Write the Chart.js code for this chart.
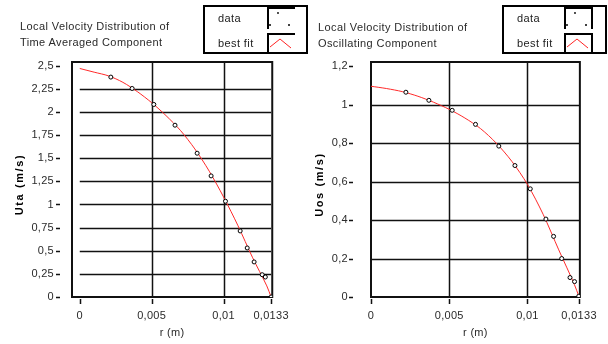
<!DOCTYPE html>
<html>
<head>
<meta charset="utf-8">
<script src="https://cdn.jsdelivr.net/npm/chart.js@4.4.0/dist/chart.umd.min.js"></script>
<style>
  body{margin:0;background:#fff;width:608px;height:344px;overflow:hidden;position:relative;font-family:"Liberation Sans",Arial,sans-serif;}
  canvas{position:absolute;top:0;}
  .title{position:absolute;font-size:11px;letter-spacing:0.4px;line-height:16px;color:#2a2a2a;white-space:nowrap;}
  .legend{position:absolute;box-sizing:border-box;border:2px solid #000;background:#fff;font-size:11px;letter-spacing:0.4px;color:#222;}
  .legend span{position:absolute;left:13px;line-height:13px;}
  .legend svg{position:absolute;}
</style>
</head>
<body>
<canvas id="left" width="300" height="344" style="left:0"></canvas>
<canvas id="right" width="308" height="344" style="left:300px"></canvas>

<div class="title" style="left:20px;top:18px">Local Velocity Distribution of<br>Time Averaged Component</div>
<div class="legend" style="left:203px;top:5px;width:105px;height:49px">
  <span style="top:5px">data</span>
  <span style="top:30px">best fit</span>
  <svg style="left:62px;top:0" width="30" height="45">
    <path d="M1 22V1H28" fill="none" stroke="#000" stroke-width="2"/>
    <circle cx="11" cy="6" r="0.9" fill="#000"/><circle cx="3" cy="18" r="1" fill="#000"/><circle cx="22" cy="18" r="1" fill="#000"/>
    <path d="M1 45V27H28" fill="none" stroke="#000" stroke-width="2"/>
    <path d="M3 40L13 32L24 41" fill="none" stroke="#f22" stroke-width="1"/>
  </svg>
</div>

<div class="title" style="left:318px;top:19px">Local Velocity Distribution of<br>Oscillating Component</div>
<div class="legend" style="left:502px;top:5px;width:105px;height:49px">
  <span style="top:5px">data</span>
  <span style="top:30px">best fit</span>
  <svg style="left:60px;top:0" width="32" height="45">
    <path d="M1 22V1H28V22" fill="none" stroke="#000" stroke-width="2"/>
    <circle cx="11" cy="6" r="0.9" fill="#000"/><circle cx="3" cy="18" r="1" fill="#000"/><circle cx="22" cy="18" r="1" fill="#000"/>
    <path d="M1 45V27H28V45" fill="none" stroke="#000" stroke-width="2"/>
    <path d="M3 40L13 32L24 41" fill="none" stroke="#f22" stroke-width="1"/>
  </svg>
</div>

<script>
// radius ticks (shared by both graphs)
const rTicks = [0, 0.005, 0.01, 0.0133];
const rTickLabels = ['0', '0,005', '0,01', '0,0133'];

// time averaged component
const utaTicks = [0, 0.25, 0.5, 0.75, 1, 1.25, 1.5, 1.75, 2, 2.25, 2.5];
const utaTickLabels = ['0', '0,25', '0,5', '0,75', '1', '1,25', '1,5', '1,75', '2', '2,25', '2,5'];
const rUta = [0.00216, 0.00364, 0.00515, 0.00662, 0.00816, 0.00913, 0.01013, 0.01115, 0.01164, 0.01212, 0.01268, 0.0129, 0.0133];
const uta = [2.377, 2.254, 2.081, 1.857, 1.554, 1.309, 1.035, 0.714, 0.530, 0.379, 0.241, 0.216, 0.0];
const rFit = [0, 0.001, 0.002, 0.003, 0.004, 0.005, 0.006, 0.007, 0.008, 0.009, 0.010, 0.011, 0.012, 0.013, 0.0133];
const utaFit = [2.47, 2.43, 2.39, 2.32, 2.22, 2.10, 1.96, 1.80, 1.60, 1.36, 1.08, 0.77, 0.43, 0.12, 0.0];

// oscillating component
const uosTicks = [0, 0.2, 0.4, 0.6, 0.8, 1, 1.2];
const uosTickLabels = ['0', '0,2', '0,4', '0,6', '0,8', '1', '1,2'];
const rUos = [0.00223, 0.0037, 0.00519, 0.00668, 0.00817, 0.0092, 0.01018, 0.01118, 0.01167, 0.01219, 0.01272, 0.01301, 0.01328];
const uos = [1.064, 1.022, 0.970, 0.897, 0.784, 0.683, 0.562, 0.405, 0.315, 0.200, 0.101, 0.080, 0.004];
const uosFit = [1.095, 1.083, 1.067, 1.043, 1.012, 0.975, 0.930, 0.875, 0.800, 0.705, 0.585, 0.43, 0.245, 0.065, 0.0];

const pts = (xs, ys) => xs.map((x, i) => ({x, y: ys[i]}));
const font = {family: 'Liberation Sans', size: 11};

// grid + frame drawn like the original graph (lines only between r=0 and r=0.0133)
const framePlugin = {
  id: 'frame',
  beforeDraw(chart){ chart.ctx.letterSpacing = '0.3px'; },
  beforeDatasetsDraw(chart, args, o){
    const {ctx, chartArea: a, scales: {x, y}} = chart;
    const x0 = x.getPixelForValue(0), x1 = x.getPixelForValue(0.0133);
    ctx.save();
    ctx.strokeStyle = '#111';
    ctx.lineWidth = 1.5;
    ctx.beginPath();
    y.ticks.slice(1, -1).forEach(t => {
      const py = Math.round(y.getPixelForValue(t.value)) + 0.5;
      ctx.moveTo(x0, py); ctx.lineTo(x1, py);
    });
    [0.005, 0.01].forEach(v => {
      const px = Math.round(x.getPixelForValue(v)) + 0.5;
      ctx.moveTo(px, a.top); ctx.lineTo(px, a.bottom);
    });
    ctx.stroke();
    ctx.lineWidth = 2;
    ctx.strokeRect(a.left, a.top, a.right - a.left, a.bottom - a.top);
    ctx.lineWidth = 1.5;
    ctx.beginPath();
    x.ticks.forEach(t => {
      const px = Math.round(x.getPixelForValue(t.value)) + 0.5;
      ctx.moveTo(px, a.bottom + 2); ctx.lineTo(px, a.bottom + 7);
    });
    y.ticks.forEach(t => {
      const py = Math.round(y.getPixelForValue(t.value)) + 0.5;
      ctx.moveTo(a.left - o.dash, py); ctx.lineTo(a.left - o.dash + 4, py);
    });
    ctx.stroke();
    ctx.restore();
  }
};

// spaced-out bold y title, a little lower than the scale centre
function spacedTitle(s){
  if (s._spaced) return;
  s._spaced = true;
  const draw = s.drawTitle;
  s.drawTitle = function(){
    const ctx = this.ctx;
    ctx.save();
    ctx.letterSpacing = '1.6px';
    ctx.translate(0, 5);
    draw.call(this);
    ctx.restore();
  };
}

function velocityChart(canvas, o){
  return new Chart(canvas, {
    type: 'scatter',
    data: {
      datasets: [
        {label: 'data', data: pts(o.rData, o.vData), pointStyle: 'circle', pointRadius: 2, pointBorderWidth: 1,
         borderColor: '#000', backgroundColor: '#fff', order: 1},
        {label: 'best fit', data: pts(rFit, o.vFit), showLine: true, pointRadius: 0, borderColor: '#ff2a2a',
         borderWidth: 1, tension: 0.3, order: 2}
      ]
    },
    options: {
      responsive: false,
      animation: false,
      layout: {padding: {top: 62, right: o.padRight, left: 0, bottom: 0}},
      plugins: {legend: {display: false}, tooltip: {enabled: false}, frame: {dash: o.dash}},
      scales: {
        x: {
          type: 'linear', min: o.xMin, max: o.xMax,
          grid: {display: false, drawTicks: false},
          border: {display: false},
          afterFit: s => { s.height = 47; },
          afterBuildTicks: s => { s.ticks = rTicks.map(v => ({value: v})); },
          ticks: {padding: 12, maxRotation: 0, autoSkip: false, color: '#2a2a2a', font,
                  callback: (v, i) => rTickLabels[i]},
          title: {display: true, text: 'r (m)', color: '#2a2a2a', padding: {top: 0, bottom: 4}, font}
        },
        y: {
          type: 'linear', min: 0, max: o.yMax,
          grid: {display: false, drawTicks: false},
          border: {display: false},
          afterFit: s => { s.width = o.yWidth; spacedTitle(s); },
          afterBuildTicks: s => { s.ticks = o.yTicks.map(v => ({value: v})); },
          ticks: {padding: o.tickPad, autoSkip: false, color: '#2a2a2a', font,
                  callback: (v, i) => o.yLabels[i]},
          title: {display: true, text: o.yTitle, color: '#000', padding: {top: 13, bottom: 0},
                  font: {family: 'Liberation Sans', size: 11, weight: 'bold'}}
        }
      }
    },
    plugins: [framePlugin]
  });
}

velocityChart(document.getElementById('left'), {
  rData: rUta, vData: uta, vFit: utaFit, yTicks: utaTicks, yLabels: utaTickLabels,
  yTitle: 'Uta (m/s)', yMax: 2.54, xMin: -0.00054, xMax: 0.01338,
  yWidth: 72, padRight: 14, tickPad: 18, dash: 16
});

velocityChart(document.getElementById('right'), {
  rData: rUos, vData: uos, vFit: uosFit, yTicks: uosTicks, yLabels: uosTickLabels,
  yTitle: 'Uos (m/s)', yMax: 1.221, xMin: 0, xMax: 0.01335,
  yWidth: 71, padRight: 25, tickPad: 23, dash: 22
});
</script>
</body>
</html>
